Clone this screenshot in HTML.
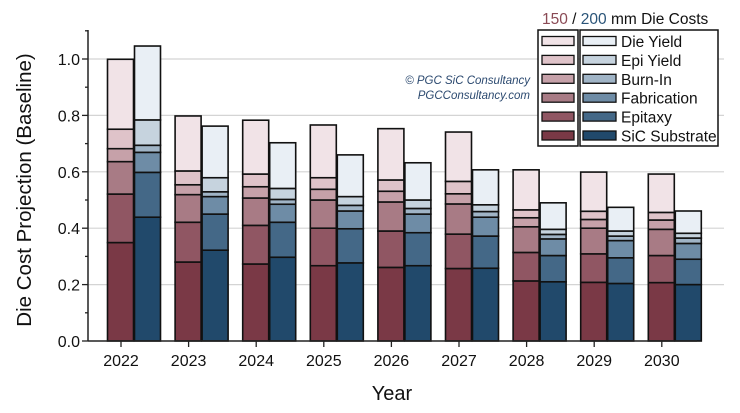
<!DOCTYPE html>
<html><head><meta charset="utf-8"><style>
body{margin:0;background:#fff;font-family:"Liberation Sans",Arial,sans-serif}
svg text{font-family:"Liberation Sans",Arial,sans-serif}
</style></head><body>
<svg id="chart" width="740" height="408" viewBox="0 0 740 408" xmlns="http://www.w3.org/2000/svg">
<g id="grid"></g><g id="bars"></g><g id="axes"></g>
<text x="0" y="0" transform="translate(31,190) rotate(-90)" text-anchor="middle" font-size="20.5" fill="#111">Die Cost Projection (Baseline)</text>
<text x="392" y="400" text-anchor="middle" font-size="20" fill="#111">Year</text>
<text x="530" y="84" text-anchor="end" font-size="11.5" font-style="italic" fill="#2c4a70">© PGC SiC Consultancy</text>
<text x="530" y="99" text-anchor="end" font-size="11.5" font-style="italic" fill="#2c4a70">PGCConsultancy.com</text>
<text x="542" y="24" font-size="15.5" fill="#111"><tspan fill="#8a4a55">150</tspan> / <tspan fill="#2a5478">200</tspan> mm Die Costs</text>
<g id="legend"></g>
</svg>
<script>
const years=["2022","2023","2024","2025","2026","2027","2028","2029","2030"];
const layers=["SiC Substrate","Epitaxy","Fabrication","Burn-In","Epi Yield","Die Yield"];
const red150_substrate=[.349,.280,.273,.267,.261,.257,.213,.208,.207];
const red150_epitaxy=[.172,.141,.137,.133,.129,.122,.101,.101,.096];
const red150_fabrication=[.115,.098,.097,.100,.103,.107,.091,.091,.093];
const red150_burnin=[.046,.035,.040,.038,.038,.036,.032,.031,.033];
const red150_epiyield=[.069,.049,.045,.041,.040,.044,.028,.029,.027];
const red150_dieyield=[.248,.195,.191,.187,.182,.175,.142,.139,.136];
const blue200_substrate=[.439,.322,.297,.277,.267,.258,.210,.204,.200];
const blue200_epitaxy=[.159,.128,.124,.121,.117,.114,.093,.091,.090];
const blue200_fabrication=[.071,.062,.064,.063,.066,.067,.059,.061,.056];
const blue200_burnin=[.025,.017,.017,.020,.020,.020,.016,.016,.019];
const blue200_epiyield=[.090,.050,.039,.031,.030,.024,.018,.018,.017];
const blue200_dieyield=[.262,.183,.162,.148,.132,.124,.094,.084,.079];
const yTicks=[0,0.2,0.4,0.6,0.8,1.0];
const yTickLabels=["0.0","0.2","0.4","0.6","0.8","1.0"];

const redCols=["#7a3946","#905663","#a87b85","#c6a1a9","#dfc3c9","#f1e3e7"];
const blueCols=["#21496b","#446887","#6e8ca6","#a0b4c6","#c6d3de","#e9eff5"];
const NS="http://www.w3.org/2000/svg";
const y0=341,yPx=282,xL=88,xR=697;
const ys=v=>y0-v*yPx;
const xs=i=>121+i*67.6;
function mk(tag,attrs,parent){const e=document.createElementNS(NS,tag);for(const k in attrs)e.setAttribute(k,attrs[k]);parent.appendChild(e);return e;}
const grid=document.getElementById('grid'),axes=document.getElementById('axes'),bars=document.getElementById('bars'),legend=document.getElementById('legend');
yTicks.forEach((t,i)=>{
  if(t>0){const g=mk('line',{x1:xL,x2:724,y1:ys(t),y2:ys(t),stroke:'#d4d4d4','stroke-width':1.2},grid);
  
  }
  const tx=mk('text',{x:xL-8,y:ys(t)+6,'text-anchor':'end','font-size':16,fill:'#111'},axes);tx.textContent=yTickLabels[i];
  
  
});
for(let v=0;v<=1.1001;v+=0.1){mk('line',{x1:xL-(Math.round(v*10)%2?3:6),x2:xL,y1:ys(v),y2:ys(v),stroke:'#222','stroke-width':1.3},axes);}
const ya=mk('line',{x1:xL,x2:xL,y1:30,y2:y0,stroke:'#222','stroke-width':1.5},axes);


const xa=mk('line',{x1:xL,x2:xR,y1:y0,y2:y0,stroke:'#222','stroke-width':1.5},axes);


years.forEach((yr,i)=>{
  mk('line',{x1:xs(i),x2:xs(i),y1:y0,y2:y0+6,stroke:'#222','stroke-width':1.3},axes);
  const t=mk('text',{x:xs(i),y:y0+25,'text-anchor':'middle','font-size':16,fill:'#111'},axes);t.textContent=yr;
  
  
});
const redSeries=[red150_substrate,red150_epitaxy,red150_fabrication,red150_burnin,red150_epiyield,red150_dieyield];
const blueSeries=[blue200_substrate,blue200_epitaxy,blue200_fabrication,blue200_burnin,blue200_epiyield,blue200_dieyield];
function stack(series,cols,off,tag){
  years.forEach((yr,i)=>{
    let c=0;
    series.forEach((s,j)=>{
      const r=mk('rect',{x:xs(i)+off,y:ys(c+s[i]),width:26,height:s[i]*yPx,fill:cols[j],stroke:'#111','stroke-width':1.6},bars);
      
      
      c+=s[i];
    });
  });
}
stack(redSeries,redCols,-13.5,'150mm');
stack(blueSeries,blueCols,13.5,'200mm');
const b1=mk('rect',{x:538,y:30,width:40,height:116,fill:'#fff',stroke:'#111','stroke-width':1.5},legend);


const b2=mk('rect',{x:580,y:30,width:138,height:116,fill:'#fff',stroke:'#111','stroke-width':1.5},legend);


for(let k=0;k<6;k++){
  const j=5-k,ly=41+k*18.9;
  mk('rect',{x:542,y:ly-4.5,width:32,height:9,fill:redCols[j],stroke:'#111','stroke-width':1.3},legend);
  mk('rect',{x:583,y:ly-4.5,width:33,height:9,fill:blueCols[j],stroke:'#111','stroke-width':1.3},legend);
  const t=mk('text',{x:621,y:ly+6,'font-size':15.5,fill:'#111'},legend);t.textContent=layers[j];
  
  
}
</script>
</body></html>
